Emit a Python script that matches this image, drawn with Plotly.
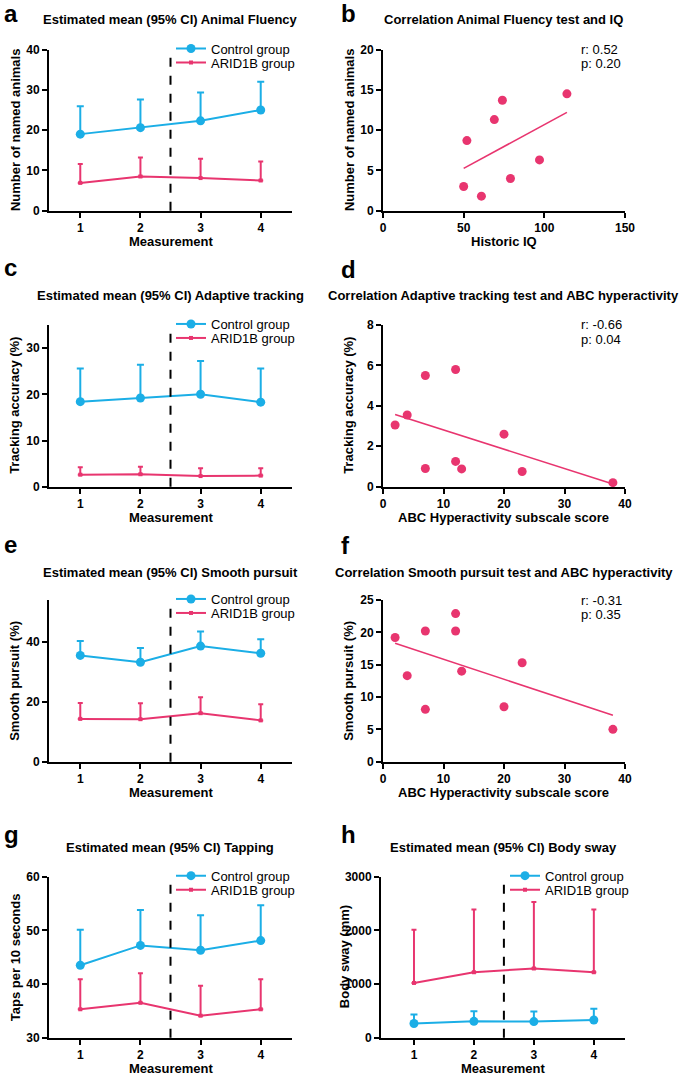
import numpy as np
import plotly.graph_objects as go

# ---------------- data ----------------
measurements = [1, 2, 3, 4]
intervention_split = 2.5

fluency_ctrl_mean = [19.0, 20.6, 22.3, 25.0]
fluency_ctrl_upper = [25.9, 27.6, 29.3, 32.0]
fluency_arid_mean = [6.9, 8.5, 8.1, 7.5]
fluency_arid_upper = [11.6, 13.2, 12.9, 12.2]

tracking_ctrl_mean = [18.4, 19.2, 20.0, 18.3]
tracking_ctrl_upper = [25.6, 26.4, 27.2, 25.6]
tracking_arid_mean = [2.6, 2.7, 2.3, 2.4]
tracking_arid_upper = [4.2, 4.3, 4.0, 4.0]

pursuit_ctrl_mean = [35.5, 33.2, 38.6, 36.2]
pursuit_ctrl_upper = [40.3, 38.0, 43.5, 40.9]
pursuit_arid_mean = [14.3, 14.2, 16.2, 13.8]
pursuit_arid_upper = [19.6, 19.5, 21.5, 19.2]

tapping_ctrl_mean = [43.5, 47.2, 46.3, 48.1]
tapping_ctrl_upper = [50.1, 53.8, 52.8, 54.7]
tapping_arid_mean = [35.3, 36.5, 34.1, 35.3]
tapping_arid_upper = [40.9, 42.0, 39.7, 40.9]

sway_ctrl_mean = [265, 305, 300, 330]
sway_ctrl_upper = [430, 495, 490, 540]
sway_arid_mean = [1020, 1220, 1290, 1220]
sway_arid_upper = [2010, 2390, 2530, 2390]

historic_iq = [50, 52, 61, 69, 74, 79, 97, 114]
animals_named = [3.0, 8.7, 1.8, 11.3, 13.7, 4.0, 6.3, 14.5]

abc_hyperactivity = [2, 4, 7, 7, 12, 12, 13, 20, 23, 38]
tracking_accuracy = [3.05, 3.55, 5.5, 0.9, 5.8, 1.25, 0.88, 2.6, 0.75, 0.2]
smooth_pursuit = [19.2, 13.3, 20.2, 8.1, 22.9, 20.2, 14.0, 8.5, 15.3, 5.0]

corr_r = ["0.52", "-0.66", "-0.31"]
corr_p = ["0.20", "0.04", "0.35"]

panel_letters = ["a", "b", "c", "d", "e", "f", "g", "h"]
panel_titles = [
    "Estimated mean (95% CI) Animal Fluency",
    "Correlation Animal Fluency test and IQ",
    "Estimated mean (95% CI) Adaptive tracking",
    "Correlation Adaptive tracking test and ABC hyperactivity",
    "Estimated mean (95% CI) Smooth pursuit",
    "Correlation Smooth pursuit test and ABC hyperactivity",
    "Estimated mean (95% CI) Tapping",
    "Estimated mean (95% CI) Body sway",
]
y_titles = [
    "Number of named animals", "Number of named animals",
    "Tracking accuracy (%)", "Tracking accuracy (%)",
    "Smooth pursuit (%)", "Smooth pursuit (%)",
    "Taps per 10 seconds", "Body sway (mm)",
]
x_titles = [
    "Measurement", "Historic IQ",
    "Measurement", "ABC Hyperactivity subscale score",
    "Measurement", "ABC Hyperactivity subscale score",
    "Measurement", "Measurement",
]
group_names = ["Control group", "ARID1B group"]

# ---------------- style / layout ----------------
W, H = 685, 1076
FONT = "Arial, Liberation Sans, sans-serif"
BLUE = "#1BAEE6"
PINK = "#E8356F"


def fx(p):
    return p / W


def fy(p):
    return 1 - p / H


col_dom = [(49, 292), (383, 625)]
row_dom = [(49.5, 210.7), (325, 486.7), (600, 761.7), (876.7, 1037.7)]
letter_y = [[13, 13], [267, 269], [544, 545], [834, 834]]
title_y = [20, 295, 572, 847]

fig = go.Figure()

axis_style = dict(
    showline=True, linecolor="black", linewidth=2,
    ticks="outside", ticklen=5, tickwidth=2, tickcolor="black",
    showgrid=False, zeroline=False,
    tickfont=dict(family=FONT, size=12, color="black", weight="bold"),
)

y_ranges = [[0, 40], [0, 20], [0, 35], [0, 8], [0, 54], [0, 25], [30, 60], [0, 3000]]
y_ticks = [[0, 10, 20, 30, 40], [0, 5, 10, 15, 20], [0, 10, 20, 30], [0, 2, 4, 6, 8],
           [0, 20, 40], [0, 5, 10, 15, 20, 25], [30, 40, 50, 60], [0, 1000, 2000, 3000]]
x_ranges = [[0.48, 4.52], [0, 150], [0.48, 4.52], [0, 40], [0.48, 4.52], [0, 40],
            [0.48, 4.52], [0.45, 4.52]]
x_ticks = [measurements, [0, 50, 100, 150], measurements, [0, 10, 20, 30, 40],
           measurements, [0, 10, 20, 30, 40], measurements, measurements]

layout_axes = {}
annotations = []
shapes = []
for i in range(8):
    r, c = divmod(i, 2)
    x0, x1 = col_dom[c]
    if i == 7:
        x0 = 381
    y0, y1 = row_dom[r]
    n = "" if i == 0 else str(i + 1)
    layout_axes["xaxis" + n] = dict(axis_style, domain=[fx(x0), fx(x1)], range=x_ranges[i],
                                    tickvals=x_ticks[i], anchor="y" + n)
    layout_axes["yaxis" + n] = dict(axis_style, domain=[fy(y1), fy(y0)], range=y_ranges[i],
                                    tickvals=y_ticks[i], anchor="x" + n)
    annotations.append(dict(text=panel_letters[i], xref="paper", yref="paper",
                            x=fx(2 if c == 0 else 339), y=fy(letter_y[r][c]),
                            xanchor="left", yanchor="middle",
                            showarrow=False, font=dict(family=FONT, size=24, color="black", weight="bold")))
    annotations.append(dict(text=panel_titles[i], xref="paper", yref="paper",
                            x=fx(170 if c == 0 else 504), y=fy(title_y[r]), xanchor="center", yanchor="middle",
                            showarrow=False, font=dict(family=FONT, size=13, color="black", weight="bold")))
    annotations.append(dict(text=y_titles[i], xref="paper", yref="paper", textangle=-90,
                            x=fx((15 if c == 0 else 349) if i != 7 else 344), y=fy((y0 + y1) / 2),
                            xanchor="center", yanchor="middle",
                            showarrow=False, font=dict(family=FONT, size=13, color="black", weight="bold")))
    annotations.append(dict(text=x_titles[i], xref="paper", yref="paper",
                            x=fx((x0 + x1) / 2), y=fy(y1 + 31), xanchor="center", yanchor="middle",
                            showarrow=False, font=dict(family=FONT, size=13, color="black", weight="bold")))

# ---------------- time course panels ----------------
course_panels = [
    (0, fluency_ctrl_mean, fluency_ctrl_upper, fluency_arid_mean, fluency_arid_upper),
    (2, tracking_ctrl_mean, tracking_ctrl_upper, tracking_arid_mean, tracking_arid_upper),
    (4, pursuit_ctrl_mean, pursuit_ctrl_upper, pursuit_arid_mean, pursuit_arid_upper),
    (6, tapping_ctrl_mean, tapping_ctrl_upper, tapping_arid_mean, tapping_arid_upper),
    (7, sway_ctrl_mean, sway_ctrl_upper, sway_arid_mean, sway_arid_upper),
]
legend_layouts = {}
lg_count = 0
for idx, cm, cu, am, au in course_panels:
    n = "" if idx == 0 else str(idx + 1)
    r, c = divmod(idx, 2)
    lx = 171 if c == 0 else 505
    ytop = row_dom[r][0]
    series = [
        (group_names[0], cm, cu, BLUE, "circle", 9, 3.5),
        (group_names[1], am, au, PINK, "square", 4, 2.5),
    ]
    for k, (name, mean, upper, col, sym, msize, cap) in enumerate(series):
        lg_count += 1
        lg = "legend" if lg_count == 1 else "legend" + str(lg_count)
        fig.add_trace(go.Scatter(
            x=measurements, y=mean, mode="lines+markers", name=name,
            line=dict(color=col, width=2), marker=dict(symbol=sym, size=msize, color=col),
            error_y=dict(type="data", symmetric=False, array=[u - m for u, m in zip(upper, mean)],
                         arrayminus=[0] * len(mean), color=col, thickness=2, width=cap),
            xaxis="x" + n, yaxis="y" + n, legend=lg, cliponaxis=False))
        legend_layouts[lg] = dict(x=fx(lx), y=fy(ytop + 14 * k - 16), xanchor="left", yanchor="top",
                                  bgcolor="rgba(0,0,0,0)", borderwidth=0,
                                  font=dict(family=FONT, size=13, color="black"))
    shapes.append(dict(type="line", xref="x" + n, yref="y" + n + " domain",
                       x0=intervention_split, x1=intervention_split, y0=0, y1=1,
                       line=dict(color="black", width=2, dash="dash")))

# ---------------- correlation panels ----------------
corr_panels = [
    (1, historic_iq, animals_named),
    (3, abc_hyperactivity, tracking_accuracy),
    (5, abc_hyperactivity, smooth_pursuit),
]
for k, (idx, xs, ys) in enumerate(corr_panels):
    n = str(idx + 1)
    slope, icpt = np.polyfit(xs, ys, 1)
    xl = np.array([min(xs), max(xs)])
    fig.add_trace(go.Scatter(x=xl, y=slope * xl + icpt, mode="lines",
                             line=dict(color=PINK, width=1.6), showlegend=False,
                             xaxis="x" + n, yaxis="y" + n))
    fig.add_trace(go.Scatter(x=xs, y=ys, mode="markers",
                             marker=dict(symbol="circle", size=9, color=PINK), showlegend=False,
                             xaxis="x" + n, yaxis="y" + n, cliponaxis=False))
    r = idx // 2
    top = row_dom[r][0]
    annotations.append(dict(text="r: " + corr_r[k], xref="paper", yref="paper", x=fx(579), y=fy(top),
                            xanchor="left", yanchor="middle", showarrow=False,
                            font=dict(family=FONT, size=13, color="black")))
    annotations.append(dict(text="p: " + corr_p[k], xref="paper", yref="paper", x=fx(579), y=fy(top + 14),
                            xanchor="left", yanchor="middle", showarrow=False,
                            font=dict(family=FONT, size=13, color="black")))

fig.update_layout(
    width=W, height=H, margin=dict(l=0, r=0, t=0, b=0, autoexpand=False),
    paper_bgcolor="white", plot_bgcolor="white",
    font=dict(family=FONT, color="black"),
    annotations=annotations, shapes=shapes,
    **layout_axes, **legend_layouts,
)

fig.write_html(
    "out.html",
    config={"displayModeBar": False},
    post_script="document.body.style.margin='0';document.body.style.overflow='hidden';",
)
